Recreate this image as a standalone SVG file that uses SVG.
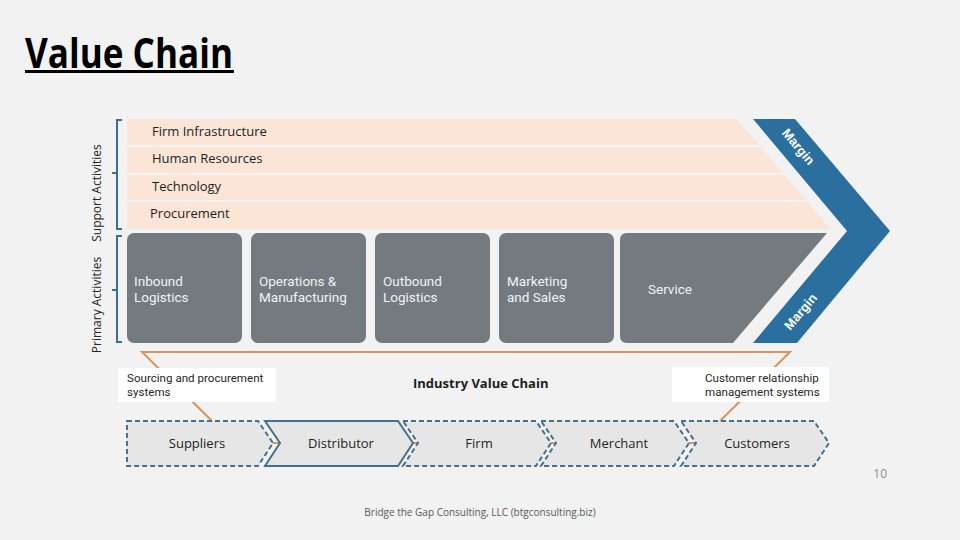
<svg xmlns="http://www.w3.org/2000/svg" width="960" height="540" viewBox="0 0 960 540">
<style>
text{font-family:"Open Sans","Noto Sans","Liberation Sans",sans-serif}
.band{fill:#fbe5d6}
.blbl{font-size:13px;fill:#1e1e1e}
.prim{fill:#737b80}
.plbl{font-size:13.5px;fill:#f2f2f2;font-family:Roboto,"Liberation Sans",sans-serif}
.brk{fill:none;stroke:#3a6d92;stroke-width:2}
.side{font-size:12px;fill:#262626}
.mrg{font-size:13px;font-weight:bold;fill:#ffffff;font-family:"Liberation Sans",sans-serif}
.conn{stroke:#d9935f;stroke-width:2;fill:none}
.chev{fill:#e6e6e6;stroke:#46708f;stroke-width:2;stroke-dasharray:5 3}
.chevs{fill:#e6e6e6;stroke:#46708f;stroke-width:2}
.clbl{font-size:13px;fill:#1e1e1e;text-anchor:middle}
.sys{fill:#ffffff}
.slbl{font-size:11.6px;fill:#262626;font-family:Roboto,"Liberation Sans",sans-serif}
</style>
<rect width="960" height="540" fill="#f2f2f2"/>
<g id="title">
<text x="25" y="68" font-size="42" font-weight="bold" fill="#000" textLength="208" lengthAdjust="spacingAndGlyphs">Value Chain</text>
<rect x="25" y="70" width="209" height="3" fill="#000"/>
</g>
<g id="support-bracket">
<path class="brk" d="M122,120 H117 V229 H122 M117,173 H112"/>
<text class="side" transform="translate(101,193) rotate(-90)" text-anchor="middle">Support Activities</text>
</g>
<g id="primary-bracket">
<path class="brk" d="M122,236 H117 V342 H122 M117,290 H112"/>
<text class="side" transform="translate(101,305) rotate(-90)" text-anchor="middle">Primary Activities</text>
</g>
<g id="firm-infrastructure">
<polygon class="band" points="127,119 737,119 759,145 127,145"/>
<text class="blbl" x="152" y="136">Firm Infrastructure</text>
</g>
<g id="human-resources">
<polygon class="band" points="127,147 761,147 783,173 127,173"/>
<text class="blbl" x="152" y="163">Human Resources</text>
</g>
<g id="technology">
<polygon class="band" points="127,175 785,175 806,200 127,200"/>
<text class="blbl" x="152" y="191">Technology</text>
</g>
<g id="procurement">
<polygon class="band" points="127,202 808,202 830,229 127,229"/>
<text class="blbl" x="150" y="218">Procurement</text>
</g>
<g id="margin">
<polygon fill="#2a6f9e" points="753,119 795,119 890,231 797,343 753,343 847,231"/>
<text class="mrg" transform="translate(798,147) rotate(50)" text-anchor="middle" dy="4">Margin</text>
<text class="mrg" transform="translate(801,312) rotate(-50)" text-anchor="middle" dy="4">Margin</text>
</g>
<g id="inbound-logistics">
<rect class="prim" x="127" y="233" width="115" height="110" rx="7"/>
<text class="plbl" x="134" y="286">Inbound</text>
<text class="plbl" x="134" y="302">Logistics</text>
</g>
<g id="operations">
<rect class="prim" x="251" y="233" width="115" height="110" rx="7"/>
<text class="plbl" x="259" y="286">Operations &amp;</text>
<text class="plbl" x="259" y="302">Manufacturing</text>
</g>
<g id="outbound-logistics">
<rect class="prim" x="375" y="233" width="115" height="110" rx="7"/>
<text class="plbl" x="383" y="286">Outbound</text>
<text class="plbl" x="383" y="302">Logistics</text>
</g>
<g id="marketing-sales">
<rect class="prim" x="499" y="233" width="115" height="110" rx="7"/>
<text class="plbl" x="507" y="286">Marketing</text>
<text class="plbl" x="507" y="302">and Sales</text>
</g>
<g id="service">
<path class="prim" d="M627,233 L827,233 L733,343 L627,343 Q620,343 620,336 L620,240 Q620,233 627,233 Z"/>
<text class="plbl" x="648" y="294">Service</text>
</g>
<g id="connectors">
<polyline class="conn" points="212,421 142,352 790,352 720,421"/>
<line class="conn" x1="272" y1="443" x2="281" y2="443"/>
<line class="conn" x1="410" y1="443" x2="419" y2="443"/>
<line class="conn" x1="548" y1="443" x2="557" y2="443"/>
<line class="conn" x1="686" y1="443" x2="695" y2="443"/>
</g>
<g id="sourcing-systems">
<rect class="sys" x="118" y="368" width="158" height="34"/>
<text class="slbl" x="127" y="382">Sourcing and procurement</text>
<text class="slbl" x="127" y="396">systems</text>
</g>
<g id="crm-systems">
<rect class="sys" x="672" y="367" width="157" height="35"/>
<text class="slbl" x="705" y="382">Customer relationship</text>
<text class="slbl" x="705" y="396">management systems</text>
</g>
<g id="industry-value-chain">
<text x="413" y="388" font-size="13" font-weight="bold" fill="#1e1e1e">Industry Value Chain</text>
</g>
<g id="suppliers">
<polygon class="chev" points="127,421 258,421 273,443 258,466 127,466"/>
<text class="clbl" x="197" y="448">Suppliers</text>
</g>
<g id="distributor">
<polygon class="chevs" points="265,421 398,421 413,443 398,466 265,466 280,443"/>
<text class="clbl" x="341" y="448">Distributor</text>
</g>
<g id="firm">
<polygon class="chev" points="403,421 536,421 551,443 536,466 403,466 418,443"/>
<text class="clbl" x="479" y="448">Firm</text>
</g>
<g id="merchant">
<polygon class="chev" points="541,421 674,421 689,443 674,466 541,466 556,443"/>
<text class="clbl" x="619" y="448">Merchant</text>
</g>
<g id="customers">
<polygon class="chev" points="681,421 814,421 829,443 814,466 681,466 696,443"/>
<text class="clbl" x="757" y="448">Customers</text>
</g>
<g id="footer">
<text x="887" y="478" font-size="12" fill="#8c8c8c" text-anchor="end">10</text>
<text x="480" y="516" font-size="10" fill="#595959" text-anchor="middle">Bridge the Gap Consulting, LLC (btgconsulting.biz)</text>
</g>
</svg>
